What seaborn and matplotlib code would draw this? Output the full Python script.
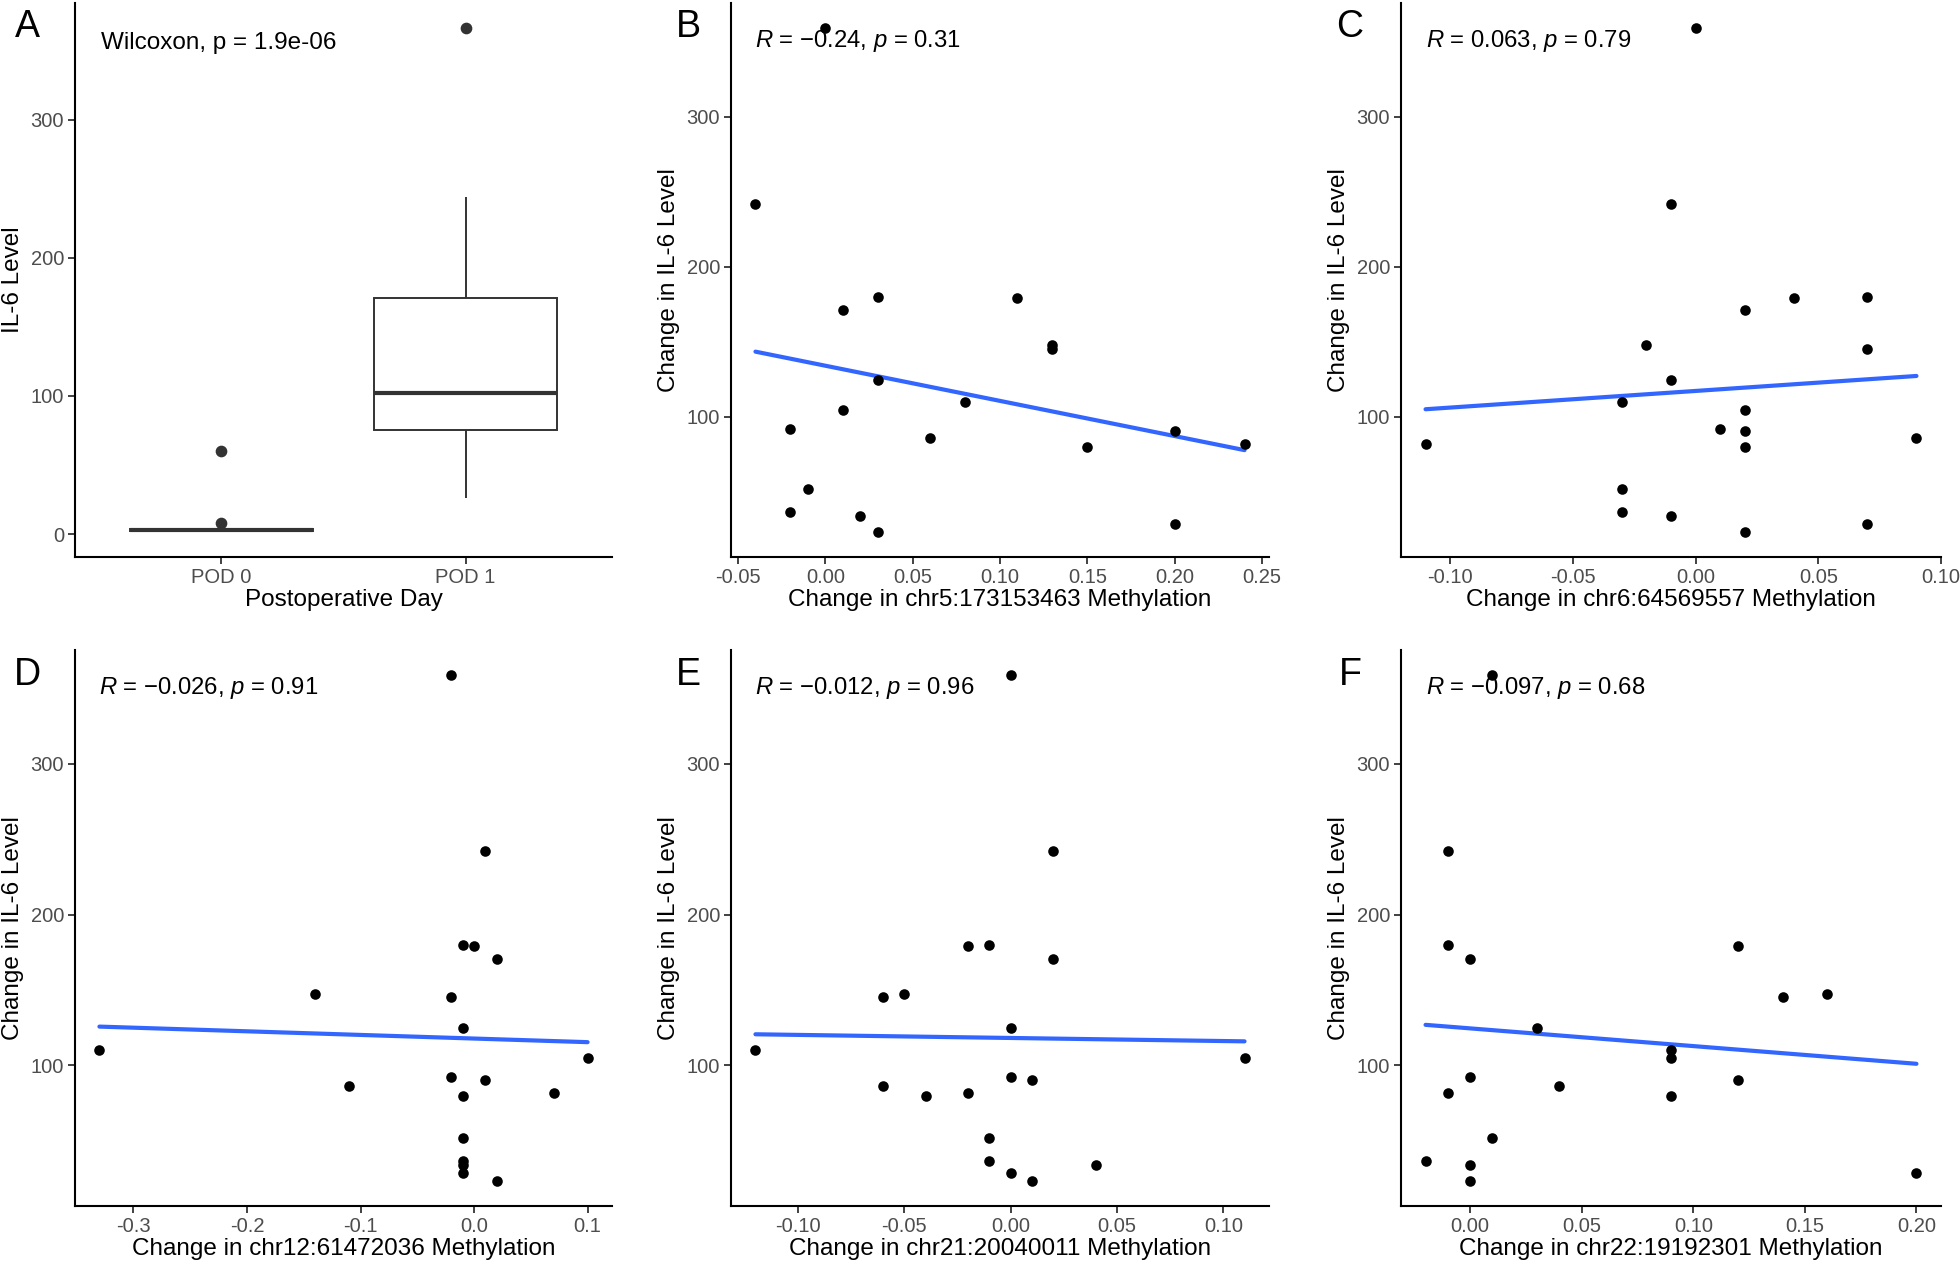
import numpy as np
import pandas as pd
import matplotlib
matplotlib.use("Agg")
import matplotlib.pyplot as plt
import matplotlib.transforms as mtransforms
from matplotlib.ticker import FixedLocator, FormatStrFormatter
import seaborn as sns

# ---------------- data ----------------
day_labels = ["POD 0", "POD 1"]
pod0_il6 = [1.6, 1.8, 2.0, 2.0, 2.1, 2.2, 2.4, 2.5, 2.7, 2.8,
            2.9, 3.0, 3.2, 3.4, 3.5, 3.8, 4.2, 5.0, 7.8, 59.9]
pod1_il6 = [366.4, 244.0, 200.0, 193.0, 190.0, 165.0, 148.2, 127.6, 113.0, 108.8,
            95.0, 93.3, 89.0, 84.7, 82.6, 55.0, 39.5, 36.9, 31.8, 26.4]

il6_change = [358.8, 242.0, 180.0, 179.4, 170.9, 147.6, 145.2, 124.6, 110.2, 104.8,
              92.0, 90.4, 86.1, 81.8, 79.7, 51.9, 36.4, 33.7, 28.9, 23.5]

meth_chr5 = [0.00, -0.04, 0.03, 0.11, 0.01, 0.13, 0.13, 0.03, 0.08, 0.01,
             -0.02, 0.20, 0.06, 0.24, 0.15, -0.01, -0.02, 0.02, 0.20, 0.03]
meth_chr6 = [0.00, -0.01, 0.07, 0.04, 0.02, -0.02, 0.07, -0.01, -0.03, 0.02,
             0.01, 0.02, 0.09, -0.11, 0.02, -0.03, -0.03, -0.01, 0.07, 0.02]
meth_chr12 = [-0.02, 0.01, -0.01, 0.00, 0.02, -0.14, -0.02, -0.01, -0.33, 0.10,
              -0.02, 0.01, -0.11, 0.07, -0.01, -0.01, -0.01, -0.01, -0.01, 0.02]
meth_chr21 = [0.00, 0.02, -0.01, -0.02, 0.02, -0.05, -0.06, 0.00, -0.12, 0.11,
              0.00, 0.01, -0.06, -0.02, -0.04, -0.01, -0.01, 0.04, 0.00, 0.01]
meth_chr22 = [0.01, -0.01, -0.01, 0.12, 0.00, 0.16, 0.14, 0.03, 0.09, 0.09,
              0.00, 0.12, 0.04, -0.01, 0.09, 0.01, -0.02, 0.00, 0.20, 0.00]

panel_letters = ["A", "B", "C", "D", "E", "F"]
site_labels = ["chr5:173153463", "chr6:64569557", "chr12:61472036",
               "chr21:20040011", "chr22:19192301"]
cor_labels = ["$R$ = \u22120.24, $p$ = 0.31",
              "$R$ = 0.063, $p$ = 0.79",
              "$R$ = \u22120.026, $p$ = 0.91",
              "$R$ = \u22120.012, $p$ = 0.96",
              "$R$ = \u22120.097, $p$ = 0.68"]
wilcox_label = "Wilcoxon, p = 1.9e-06"

ticks_a = [0, 100, 200, 300]
ticks_y = [100, 200, 300]
xticks_b = [-0.05, 0.00, 0.05, 0.10, 0.15, 0.20, 0.25]
xticks_c = [-0.10, -0.05, 0.00, 0.05, 0.10]
xticks_d = [-0.3, -0.2, -0.1, 0.0, 0.1]
xticks_e = [-0.10, -0.05, 0.00, 0.05, 0.10]
xticks_f = [0.00, 0.05, 0.10, 0.15, 0.20]

# ---------------- style ----------------
sns.set_style("ticks")
plt.rcParams["font.family"] = ["Liberation Sans", "DejaVu Sans"]
plt.rcParams["mathtext.fontset"] = "custom"
plt.rcParams["mathtext.rm"] = "Liberation Sans"
plt.rcParams["mathtext.it"] = "Liberation Sans:italic"
plt.rcParams["axes.unicode_minus"] = False

TICK_FS = 14.5
TITLE_FS = 17.5
ANN_FS = 17.2
LETTER_FS = 27
SPINE_LW = 1.5
GREY20 = "#333333"
GREY30 = "#4D4D4D"

W, H = 1960, 1264
fig = plt.figure(figsize=(W / 100, H / 100), dpi=100)

cols = [(75, 612), (731, 1269), (1401, 1941)]
rows = [(3, 557), (650, 1206)]


def make_ax(r, c):
    (l, rr), (t, b) = cols[c], rows[r]
    return fig.add_axes([l / W, 1 - b / H, (rr - l) / W, (b - t) / H])


def style_ax(ax):
    for s in ["top", "right"]:
        ax.spines[s].set_visible(False)
    for s in ["left", "bottom"]:
        ax.spines[s].set_color("black")
        ax.spines[s].set_linewidth(SPINE_LW)
    ax.tick_params(axis="both", which="major", length=5, width=1.3,
                   color=GREY20, labelcolor=GREY30, labelsize=TICK_FS, pad=3)
    ax.grid(False)
    ax.set_facecolor("white")


# ---------------- panel A ----------------
axA = make_ax(0, 0)
dfA = pd.DataFrame({
    "Day": [day_labels[0]] * len(pod0_il6) + [day_labels[1]] * len(pod1_il6),
    "IL6": pod0_il6 + pod1_il6,
})
sns.boxplot(data=dfA, x="Day", y="IL6", order=day_labels, ax=axA,
            color="white", linecolor=GREY20, linewidth=1.4, width=0.75,
            showcaps=False, saturation=1,
            flierprops=dict(marker="o", markerfacecolor=GREY20,
                            markeredgecolor=GREY20, markersize=7.4),
            medianprops=dict(linewidth=3.0, color=GREY20))
axA.set_xlim(-0.6, 1.6)
style_ax(axA)
axA.yaxis.set_major_locator(FixedLocator(ticks_a))
axA.set_xlabel("Postoperative Day", fontsize=TITLE_FS, color="black")
axA.set_ylabel("IL-6 Level", fontsize=TITLE_FS, color="black")
axA.xaxis.set_label_coords(0.5, -0.058)
axA.yaxis.set_label_coords(-0.095, 0.5)
transA = mtransforms.offset_copy(
    mtransforms.blended_transform_factory(axA.transAxes, axA.transData),
    fig=fig, x=0, y=-4, units="dots")
axA.text(0.048, max(pod1_il6), wilcox_label, transform=transA,
         ha="left", va="top", fontsize=ANN_FS + 0.3, color="black")

# ---------------- scatter panels ----------------
meth_data = [meth_chr5, meth_chr6, meth_chr12, meth_chr21, meth_chr22]
xticks_all = [xticks_b, xticks_c, xticks_d, xticks_e, xticks_f]
fmts = ["%.2f", "%.2f", "%.1f", "%.2f", "%.2f"]
positions = [(0, 1), (0, 2), (1, 0), (1, 1), (1, 2)]

for i in range(5):
    r, c = positions[i]
    ax = make_ax(r, c)
    df = pd.DataFrame({"meth": meth_data[i], "il6": il6_change})
    sns.regplot(data=df, x="meth", y="il6", ax=ax, ci=None, truncate=True,
                scatter_kws=dict(s=58, color="black", alpha=1, linewidths=0,
                                 zorder=3),
                line_kws=dict(color="#3366FF", linewidth=3.0, zorder=2))
    ax.margins(x=0.05, y=0.05)
    ax.autoscale_view()
    style_ax(ax)
    ax.xaxis.set_major_locator(FixedLocator(xticks_all[i]))
    ax.xaxis.set_major_formatter(FormatStrFormatter(fmts[i]))
    ax.yaxis.set_major_locator(FixedLocator(ticks_y))
    ax.set_xlabel("Change in %s Methylation" % site_labels[i],
                  fontsize=TITLE_FS, color="black")
    ax.set_ylabel("Change in IL-6 Level", fontsize=TITLE_FS, color="black")
    ax.xaxis.set_label_coords(0.5, -0.058)
    ax.yaxis.set_label_coords(-0.095, 0.5)
    ax.text(min(meth_data[i]), max(il6_change), cor_labels[i],
            ha="left", va="top", fontsize=ANN_FS, color="black", zorder=4)

# ---------------- panel letters ----------------
letter_pos = [(27, 27), (688, 27), (1350, 27), (27, 675), (688, 675), (1350, 675)]
for lab, (px, py) in zip(panel_letters, letter_pos):
    fig.text(px / W, 1 - py / H, lab, fontsize=LETTER_FS, ha="center",
             va="center", color="black")

fig.savefig("out.png", dpi=100, facecolor="white")
